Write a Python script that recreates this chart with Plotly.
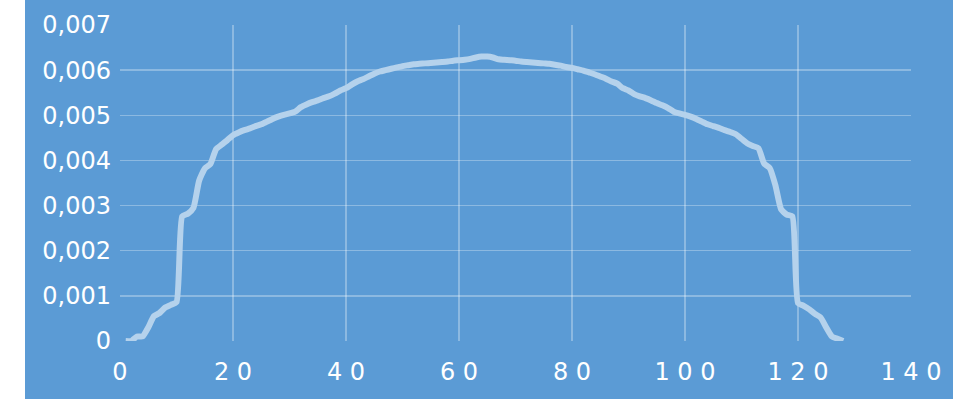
import plotly.graph_objects as go

x_values = list(range(1, 129))
y_milli = [
    0.00, 0.00, 0.10, 0.10, 0.30, 0.55, 0.62, 0.74, 0.80, 0.86,
    2.76, 2.82, 2.95, 3.55, 3.82, 3.92, 4.25, 4.35, 4.45, 4.56,
    4.62, 4.67, 4.71, 4.76, 4.80, 4.86, 4.92, 4.97, 5.01, 5.04,
    5.08, 5.18, 5.24, 5.29, 5.33, 5.38, 5.42, 5.48, 5.55, 5.60,
    5.68, 5.75, 5.80, 5.86, 5.92, 5.97, 6.00, 6.03, 6.06, 6.09,
    6.11, 6.13, 6.14, 6.15, 6.16, 6.17, 6.18, 6.19, 6.21, 6.22,
    6.23, 6.25, 6.28, 6.30, 6.30, 6.28, 6.24, 6.23, 6.22, 6.21,
    6.19, 6.18, 6.17, 6.16, 6.15, 6.14, 6.12, 6.10, 6.07, 6.05,
    6.02, 5.99, 5.95, 5.91, 5.86, 5.81, 5.75, 5.70, 5.60, 5.55,
    5.47, 5.42, 5.38, 5.33, 5.27, 5.22, 5.16, 5.08, 5.04, 5.01,
    4.97, 4.92, 4.86, 4.80, 4.76, 4.72, 4.67, 4.63, 4.58, 4.48,
    4.38, 4.32, 4.27, 3.93, 3.83, 3.45, 2.92, 2.80, 2.76, 0.84,
    0.78, 0.70, 0.60, 0.52, 0.30, 0.10, 0.05, 0.00,
]
y_values = [v / 1000 for v in y_milli]

x_tickvals = [0, 20, 40, 60, 80, 100, 120, 140]
x_ticktext = ["0", "2 0", "4 0", "6 0", "8 0", "1 0 0", "1 2 0", "1 4 0"]
y_tickvals = [0, 0.001, 0.002, 0.003, 0.004, 0.005, 0.006, 0.007]
y_ticktext = ["0", "0,001", "0,002", "0,003", "0,004", "0,005", "0,006", "0,007"]

BLUE = "#5b9bd5"
GRID = "rgba(255,255,255,0.30)"
W, H = 953, 399
ML, MR, MT, MB = 120, 42, 25, 58

fig = go.Figure()
fig.add_trace(go.Scatter(
    x=x_values, y=y_values, mode="lines",
    line=dict(color="#b5d2ec", width=6, shape="spline", smoothing=0.5),
    hoverinfo="skip", showlegend=False,
))

pw = W - ML - MR
fig.add_shape(type="rect", xref="paper", yref="paper",
              x0=-ML / pw - 0.01, x1=(25 - ML) / pw, y0=-1, y1=2,
              fillcolor="white", line=dict(width=0), layer="below")

fig.update_layout(
    width=W, height=H,
    margin=dict(l=ML, r=MR, t=MT, b=MB),
    paper_bgcolor=BLUE, plot_bgcolor=BLUE,
    font=dict(family="DejaVu Sans", size=24, color="white"),
    showlegend=False,
)
fig.update_xaxes(
    range=[0, 140], tickvals=x_tickvals, ticktext=x_ticktext,
    showgrid=True, gridcolor=GRID, gridwidth=1.5,
    zeroline=False, showline=False, ticks="", ticklabelstandoff=14,
    tickfont=dict(size=24, color="white"),
)
fig.update_yaxes(
    range=[0, 0.007], tickvals=y_tickvals, ticktext=y_ticktext,
    showgrid=True, gridcolor=GRID, gridwidth=1.5,
    zeroline=False, showline=False, ticks="", ticklabelstandoff=8,
    tickfont=dict(size=24, color="white"),
)

fig.write_html("out.html", config={"displayModeBar": False, "staticPlot": True})
with open("out.html", "r", encoding="utf-8") as f:
    html = f.read()
html = html.replace(
    "<body>",
    '<body style="margin:0;padding:0;overflow:hidden;background:' + BLUE + '">',
    1,
)
with open("out.html", "w", encoding="utf-8") as f:
    f.write(html)
